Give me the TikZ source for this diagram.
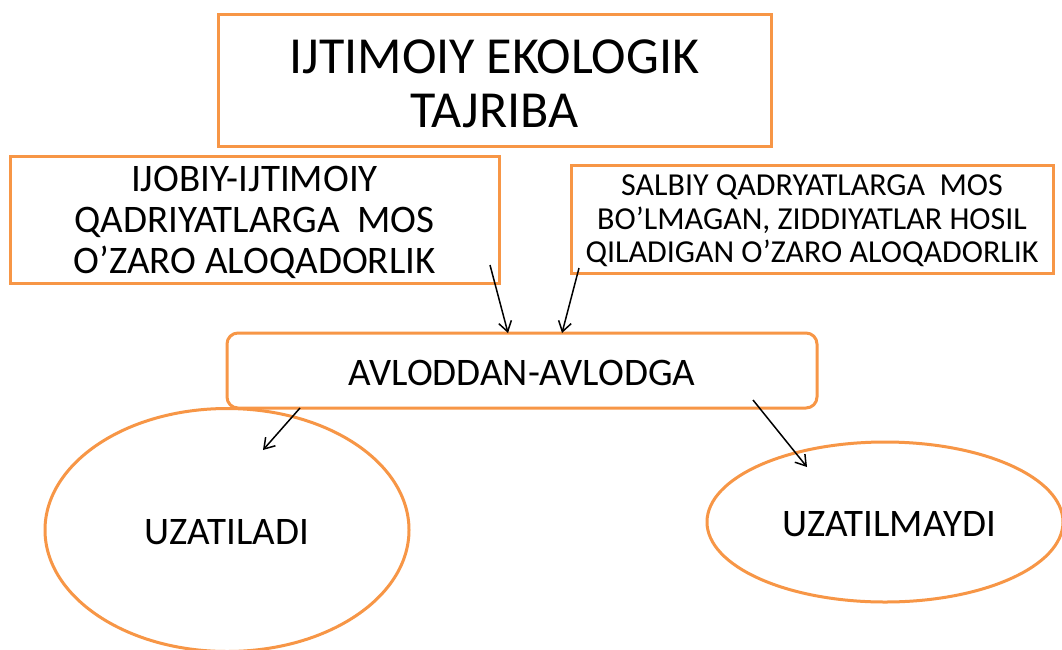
\documentclass[tikz,border=0pt]{standalone}
\usepackage{fontspec}
\setmainfont{Carlito}
\usetikzlibrary{shapes.geometric,arrows.meta}
\definecolor{boxorange}{HTML}{F79646}
\tikzset{
  sqbox/.style={draw=boxorange, line width=3pt, inner sep=0pt, align=center, fill=white},
  rbox/.style={sqbox, rounded corners=11pt},
  oval/.style={ellipse, draw=boxorange, line width=3pt, inner sep=0pt},
  conn/.style={black, line width=1.5pt, -{Straight Barb[length=10pt,width=13pt,line width=1.5pt]}}
}
\begin{document}
\begin{tikzpicture}[x=1pt,y=-1pt]
\useasboundingbox (0,0) rectangle (1062,649);
\clip (0,0) rectangle (1062,649);
\fill[white] (0,0) rectangle (1062,649);

\node[sqbox, minimum width=553pt, minimum height=132pt] (top) at (494.5,80) {};
\node[align=center, font=\fontsize{52}{54}\selectfont] (toptxt) at (494.5,84) {IJTIMOIY EKOLOGIK\\TAJRIBA};

\node[sqbox, minimum width=489pt, minimum height=127pt] (left) at (254.5,219.5) {};
\node[align=center, font=\fontsize{39}{41}\selectfont] (lefttxt) at (254.5,222) {IJOBIY-IJTIMOIY\\QADRIYATLARGA\ \ MOS\\O’ZARO ALOQADORLIK};

\node[sqbox, minimum width=482pt, minimum height=108pt] (right) at (812,219) {};
\node[align=center, font=\fontsize{32}{33.5}\selectfont] (righttxt) at (812,221) {SALBIY QADRYATLARGA\ \ MOS\\BO’LMAGAN, ZIDDIYATLAR HOSIL\\QILADIGAN O’ZARO ALOQADORLIK};

\node[rbox, minimum width=590pt, minimum height=75pt] (mid) at (522,370.5) {};
\node[font=\fontsize{39}{40}\selectfont] (midtxt) at (522,373) {AVLODDAN-AVLODGA};

\node[oval, minimum width=364pt, minimum height=243pt] (e1) at (227,530) {};
\node[font=\fontsize{39}{40}\selectfont] (e1txt) at (227,532) {UZATILADI};

\node[oval, minimum width=356pt, minimum height=160pt] (e2) at (885,522) {};
\node[font=\fontsize{39}{40}\selectfont] (e2txt) at (889,524) {UZATILMAYDI};

\coordinate (a1s) at (490,265);
\coordinate (a1e) at (508,333);
\coordinate (a2s) at (579,268);
\coordinate (a2e) at (562,333);
\coordinate (a3s) at (300,408);
\coordinate (a3e) at (263,450);
\coordinate (a4s) at (753,400);
\coordinate (a4e) at (807,467);

\draw[conn] (a1s) -- (a1e);
\draw[conn] (a2s) -- (a2e);
\draw[conn] (a3s) -- (a3e);
\draw[conn] (a4s) -- (a4e);
\end{tikzpicture}
\end{document}
